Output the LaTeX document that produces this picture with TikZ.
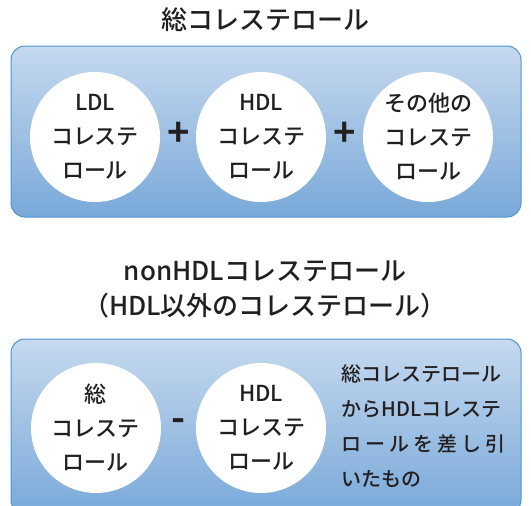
\documentclass[tikz,border=0pt]{standalone}
\usepackage{fontspec}
\setmainfont{Noto Sans CJK JP Medium}[BoldFont={Noto Sans CJK JP Bold}]
\usepackage{tikz}

\definecolor{ink}{HTML}{231F20}
\definecolor{paletop}{HTML}{C6D9EF}
\definecolor{palebot}{HTML}{79A9D9}
\definecolor{rim}{HTML}{4A96D4}

\begin{document}
\begin{tikzpicture}[x=1pt,y=-1pt,
  panel/.style={draw=rim, line width=1pt, rounded corners=14pt, top color=paletop, bottom color=palebot},
  ball/.style={circle, fill=white, minimum size=130pt, inner sep=0pt, align=center, text=ink, font=\fontsize{22}{34}\selectfont},
  heading/.style={align=center, text=ink, font=\fontsize{26}{35}\selectfont},
  sign/.style={text=ink, font=\fontsize{38}{38}\selectfont\bfseries}]
\useasboundingbox (0,0) rectangle (531,506);
% sum
\node[heading] (sumtitle) at (265,20) {総コレステロール};
\draw[panel] (11,46) rectangle (521,217);
\node[ball] (ldl) at (95,137) {LDL\\コレステ\\ロール};
\node[ball] (hdl) at (261,137) {HDL\\コレステ\\ロール};
\node[ball] (other) at (428,137) {その他の\\コレステ\\ロール};
\node[sign] (plusa) at (179,134) {+};
\node[sign] (plusb) at (345,134) {+};
% difference
\node[heading] (difftitle) at (265,289) {nonHDLコレステロール\\（HDL以外のコレステロール）};
\draw[panel] (11,339) rectangle (521,514);
\node[ball] (total) at (96,428) {総\\コレステ\\ロール};
\node[ball] (hdlb) at (261,428) {HDL\\コレステ\\ロール};
\node[sign] (minus) at (179,425) {-};
\node[anchor=west, align=left, text=ink, font=\fontsize{20}{35}\selectfont] (note) at (338,426)
  {総コレステロール\\からHDLコレステ\\\makebox[164pt][s]{ロ\hfil ー\hfil ル\hfil を\hfil 差\hfil し\hfil 引}\\いたもの};
\end{tikzpicture}
\end{document}
